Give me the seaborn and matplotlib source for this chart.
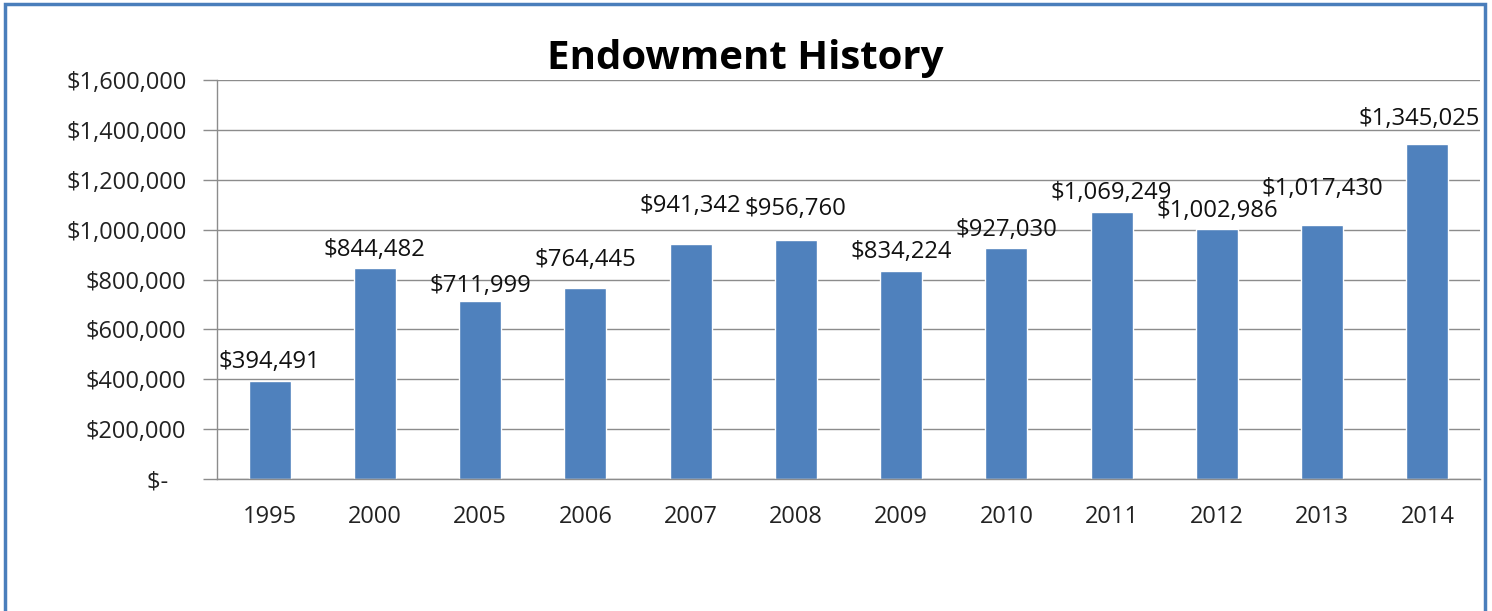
# Librerías
import pandas as pd
import numpy as np
import matplotlib.pyplot as plt
import matplotlib.ticker as mticker
from matplotlib.patches import Rectangle
import seaborn as sns

# Datos del gráfico
years = ['1995', '2000', '2005', '2006', '2007', '2008', '2009', '2010', '2011', '2012', '2013', '2014']
endowment = [394491, 844482, 711999, 764445, 941342, 956760, 834224, 927030, 1069249, 1002986, 1017430, 1345025]
y_ticks = [0, 200000, 400000, 600000, 800000, 1000000, 1200000, 1400000, 1600000]

# Separación (px) entre la barra y su etiqueta, ajustada a mano en el original
label_gap_px = [11, 10, 7, 20, 30, 23, 11, 10, 11, 10, 28, 17]

df = pd.DataFrame({'year': years, 'value': endowment})

sns.set_style('white')
plt.rcParams['font.family'] = ['Open Sans', 'DejaVu Sans']

fig = plt.figure(figsize=(14.92, 6.11), dpi=100)
ax = fig.add_axes([0.1454, 0.216, 0.8466, 0.653])

sns.barplot(data=df, x='year', y='value', color='#4F81BD', saturation=1, width=0.4, ax=ax)

ax.set_ylim(0, 1600000)
ax.set_xlim(-0.5, len(years) - 0.5)
ax.set_yticks(y_ticks)


def money(v, pos=None):
    if v == 0:
        return '$-   '
    return f'${v:,.0f}'


ax.yaxis.set_major_formatter(mticker.FuncFormatter(money))
ax.yaxis.grid(True, color='#8C8C8C', linewidth=1)
ax.set_axisbelow(True)

# Marcas del eje x entre categorías
ax.set_xticks(np.arange(-0.5, len(years), 1), minor=True)
ax.tick_params(axis='x', which='minor', length=9, width=1, color='#8C8C8C', direction='out')
ax.tick_params(axis='x', which='major', length=0, labelsize=17, pad=19, labelcolor='#222222')
ax.tick_params(axis='y', length=10, width=1, color='#8C8C8C', direction='out', labelsize=17,
               pad=12, labelcolor='#222222', left=True)

for side in ['top', 'right']:
    ax.spines[side].set_visible(False)
for side in ['left', 'bottom']:
    ax.spines[side].set_color('#8C8C8C')
    ax.spines[side].set_linewidth(1)

ax.set_xlabel('')
ax.set_ylabel('')

# Etiquetas de valores (se mantienen dentro del área del gráfico, como en Excel)
fig.canvas.draw()
renderer = fig.canvas.get_renderer()
ax_box = ax.get_window_extent(renderer)
for i, v in enumerate(endowment):
    dy = (label_gap_px[i] - 4) * 72 / fig.dpi
    t = ax.annotate(f'${v:,.0f}', (i, v), xytext=(0, dy), textcoords='offset points',
                    ha='center', va='bottom', fontsize=17.2, color='#111111')
    bb = t.get_window_extent(renderer)
    if bb.x1 > ax_box.x1:
        shift = (bb.x1 - ax_box.x1) * 72 / fig.dpi
        t.xyann = (-shift, dy)

fig.text(0.4995, 0.905, 'Endowment History', ha='center', va='center', fontsize=29,
         fontweight='bold', color='black')

# Borde del gráfico
fig.patches.append(Rectangle((5 / 1492, -0.05), 1480 / 1492, 1.05 - 4 / 611,
                             transform=fig.transFigure, fill=False,
                             edgecolor='#4A7EBB', linewidth=2.5))

fig.savefig('out.png', dpi=100)
